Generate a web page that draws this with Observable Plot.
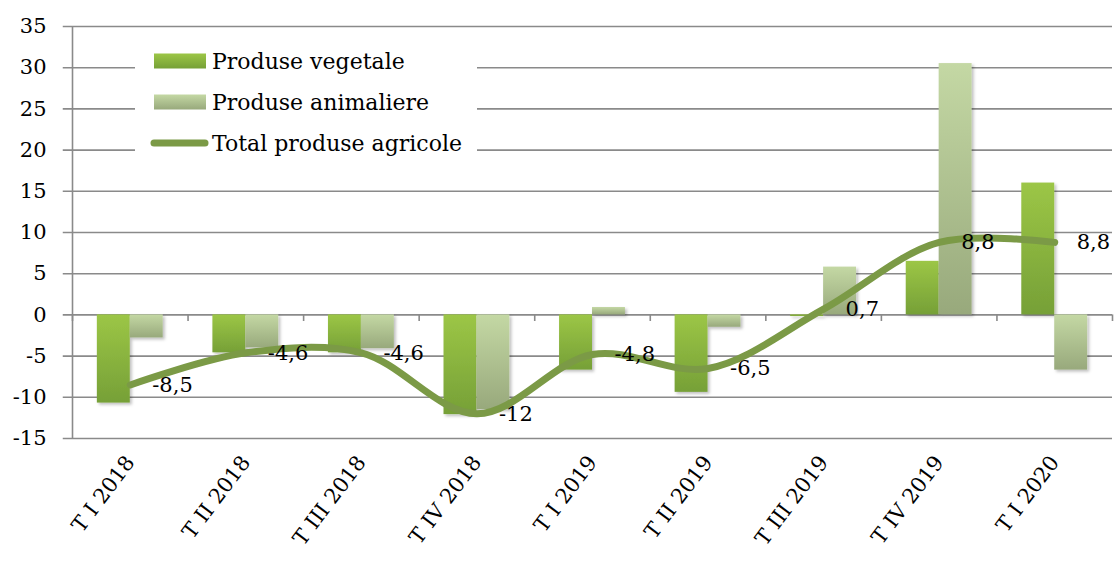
<!DOCTYPE html>
<html>
<head>
<meta charset="utf-8">
<script src="https://cdn.jsdelivr.net/npm/d3@7"></script>
<script src="https://cdn.jsdelivr.net/npm/@observablehq/plot@0.6"></script>
<style>
  html, body { margin: 0; padding: 0; background: #fff; }
  #chart { width: 1114px; height: 561px; }
</style>
</head>
<body>
<div id="chart"></div>
<script>
const categories = ["T I 2018", "T II 2018", "T III 2018", "T IV 2018", "T I 2019", "T II 2019", "T III 2019", "T IV 2019", "T I 2020"];
const vegetale   = [-10.7, -4.6, -4.6, -12.1, -6.7, -9.4, -0.2, 6.5, 16.0];
const animaliere = [-2.8, -4.0, -4.1, -11.5, 0.9, -1.5, 5.8, 30.5, -6.7];
const total      = [-8.5, -4.6, -4.6, -12, -4.8, -6.5, 0.7, 8.8, 8.8];
const yTicks     = [-15, -10, -5, 0, 5, 10, 15, 20, 25, 30, 35];
const seriesNames = ["Produse vegetale", "Produse animaliere", "Total produse agricole"];

const FONT = "'DejaVu Serif', 'Liberation Serif', serif";
const idx = d3.range(categories.length);
const fmt = v => String(v).replace(".", ",");
const BW = 0.285;
const lineColor = "#7b9a46";

const defs = () => {
  const d = d3.create("svg:defs");
  const g1 = d.append("linearGradient").attr("id", "gVeg").attr("x1", 0).attr("y1", 0).attr("x2", 0).attr("y2", 1);
  g1.append("stop").attr("offset", "0%").attr("stop-color", "#9cc646");
  g1.append("stop").attr("offset", "100%").attr("stop-color", "#76a037");
  const g2 = d.append("linearGradient").attr("id", "gAni").attr("x1", 0).attr("y1", 0).attr("x2", 0).attr("y2", 1);
  g2.append("stop").attr("offset", "0%").attr("stop-color", "#c4d8a4");
  g2.append("stop").attr("offset", "100%").attr("stop-color", "#98a97c");
  const f = d.append("filter").attr("id", "sh").attr("x", "-20%").attr("y", "-20%").attr("width", "150%").attr("height", "150%");
  f.append("feDropShadow").attr("dx", 2).attr("dy", 2).attr("stdDeviation", 1.5).attr("flood-color", "#000").attr("flood-opacity", 0.25);
  return d.node();
};

const svg = Plot.plot({
  width: 1114,
  height: 561,
  marginLeft: 72,
  marginRight: 2,
  marginTop: 26,
  marginBottom: 123,
  style: { fontFamily: FONT, fontSize: "21px", color: "#000", background: "#fff" },
  x: { type: "linear", domain: [-0.5, 8.5] },
  y: { domain: [-15, 35] },
  marks: [
    defs,
    Plot.ruleY(yTicks, { x1: -0.58, x2: 8.5, y: d => d, stroke: "#8a8a8a", strokeWidth: 1.6 }),
    Plot.ruleX([-0.5], { y1: -15, y2: 35, stroke: "#8a8a8a", strokeWidth: 1.6 }),
    Plot.ruleX(d3.range(0, categories.length + 1), { x: i => i - 0.5, y1: () => 0, y2: () => -0.8, stroke: "#8a8a8a", strokeWidth: 1.6 }),
    Plot.rect(idx, { x1: i => i - BW, x2: i => i, y1: () => 0, y2: i => vegetale[i], fill: "url(#gVeg)" }),
    Plot.rect(idx, { x1: i => i, x2: i => i + BW, y1: () => 0, y2: i => animaliere[i], fill: "url(#gAni)" }),
    Plot.line(idx, { x: i => i, y: i => total[i], curve: "catmull-rom", stroke: lineColor, strokeWidth: 7, strokeLinecap: "round" }),
    Plot.text(idx, { x: i => i, y: i => total[i], text: i => fmt(total[i]), textAnchor: "start", dx: 22, fontSize: 21, fill: "#000" }),
    Plot.axisY({ ticks: yTicks, tickSize: 0, tickPadding: 26, tickFormat: d => String(d), fontSize: 21 }),
    Plot.axisX({ ticks: idx, tickFormat: i => categories[i], tickRotate: -53, tickSize: 0, tickPadding: 20, fontSize: 21 })
  ]
});

d3.select(svg).selectAll("g[aria-label='rect']").attr("filter", "url(#sh)");

const lg = d3.select(svg).append("g").attr("font-family", FONT).attr("font-size", 22).attr("text-anchor", "start");
lg.append("rect").attr("x", 135).attr("y", 38).attr("width", 342).attr("height", 126).attr("fill", "#fff");
const rows = [61, 102, 143];
lg.append("rect").attr("x", 154).attr("y", rows[0] - 7.5).attr("width", 52).attr("height", 15).attr("fill", "url(#gVeg)");
lg.append("rect").attr("x", 154).attr("y", rows[1] - 7.5).attr("width", 52).attr("height", 15).attr("fill", "url(#gAni)");
lg.append("line").attr("x1", 154).attr("x2", 205).attr("y1", rows[2]).attr("y2", rows[2]).attr("stroke", lineColor).attr("stroke-width", 7).attr("stroke-linecap", "round");
seriesNames.forEach((n, k) => {
  lg.append("text").attr("x", 212).attr("y", rows[k]).attr("dy", "0.35em").attr("fill", "#000").attr("text-anchor", "start").text(n);
});

document.getElementById("chart").appendChild(svg);
</script>
</body>
</html>
